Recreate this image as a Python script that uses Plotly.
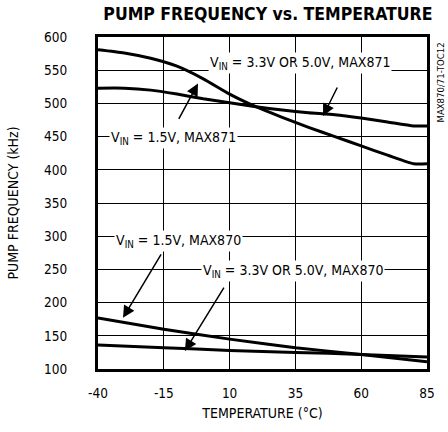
import plotly.graph_objects as go

temps_871 = [-40, -30, -20, -10, 0, 10, 20, 30, 40, 50, 60, 70, 80, 85]
freq_871_15 = [581, 576, 568, 556, 537, 514, 495, 479, 464, 450, 436, 422, 409, 409]
freq_871_33 = [523, 523, 520, 514, 507, 501, 495, 490, 486, 483, 478, 472, 466, 466]
temps_870 = [-40, -15, 10, 35, 60, 85]
freq_870_15 = [177, 160, 145, 132, 122, 111]
freq_870_33 = [136, 132, 128, 125, 122, 118]

x_ticks = [-40, -15, 10, 35, 60, 85]
x_tick_labels = ["-40", "-15", "10", "35", "60", "85"]
y_ticks = [100, 150, 200, 250, 300, 350, 400, 450, 500, 550, 600]

FONT = "DejaVu Sans Condensed, Liberation Sans Narrow, Arial Narrow, Liberation Sans"

fig = go.Figure()
for xs, ys in [(temps_871, freq_871_15), (temps_871, freq_871_33),
               (temps_870, freq_870_15), (temps_870, freq_870_33)]:
    fig.add_trace(go.Scatter(x=xs, y=ys, mode="lines",
                             line=dict(color="black", width=3, shape="spline", smoothing=0.6),
                             showlegend=False, hoverinfo="skip"))

labels = [
    ("V<sub>IN</sub> = 3.3V OR 5.0V, MAX871", 36.7, 560.7),
    ("V<sub>IN</sub> = 1.5V, MAX871", -11.5, 447.5),
    ("V<sub>IN</sub> = 1.5V, MAX870", -9.6, 293),
    ("V<sub>IN</sub> = 3.3V OR 5.0V, MAX870", 34.1, 248),
]
for t, x, y in labels:
    fig.add_annotation(x=x, y=y, text=t, showarrow=False, bgcolor="white",
                       borderpad=1, font=dict(family=FONT, size=14, color="black"))

arrows = [(45.5, 481, 15, -30), (-2, 530, -20, 37), (-30.5, 177, 39, -65), (-7, 127, 40, -65)]
for x, y, ax, ay in arrows:
    fig.add_annotation(x=x, y=y, ax=ax, ay=ay, text="", showarrow=True,
                       arrowhead=2, arrowsize=1.6, arrowwidth=1.5, arrowcolor="black")

fig.add_annotation(xref="paper", yref="paper", x=1.04, xanchor="center", y=0.99, yanchor="top",
                   text="MAX870/71-TOC12", textangle=-90, showarrow=False,
                   font=dict(family=FONT, size=9.5, color="black"))

fig.update_layout(
    width=448, height=432,
    margin=dict(l=98, r=21, t=37, b=63),
    paper_bgcolor="white", plot_bgcolor="white",
    title=dict(text="<b>PUMP FREQUENCY vs. TEMPERATURE</b>", x=0.598, xanchor="center",
               y=0.967, yanchor="middle",
               font=dict(family=FONT, size=17.5, color="black")),
    font=dict(family=FONT, size=13.5, color="black"),
)
fig.update_xaxes(range=[-40, 85], tickvals=x_ticks, ticktext=x_tick_labels,
                 showgrid=True, gridcolor="black", gridwidth=1, automargin=False,
                 showline=True, linecolor="black", linewidth=3, mirror=True, zeroline=False,
                 ticks="", ticklabelstandoff=10,
                 title=dict(text="TEMPERATURE (°C)", font=dict(family=FONT, size=14), standoff=8))
fig.update_yaxes(range=[100, 600], tickvals=y_ticks, showgrid=True, gridcolor="black", gridwidth=1,
                 automargin=False,
                 showline=True, linecolor="black", linewidth=3, mirror=True, zeroline=False,
                 ticks="", ticklabelstandoff=25,
                 title=dict(text="PUMP FREQUENCY (kHz)", font=dict(family=FONT, size=14), standoff=23))

fig.write_html("out.html", config={"displayModeBar": False},
               post_script="document.body.style.margin='0';")
